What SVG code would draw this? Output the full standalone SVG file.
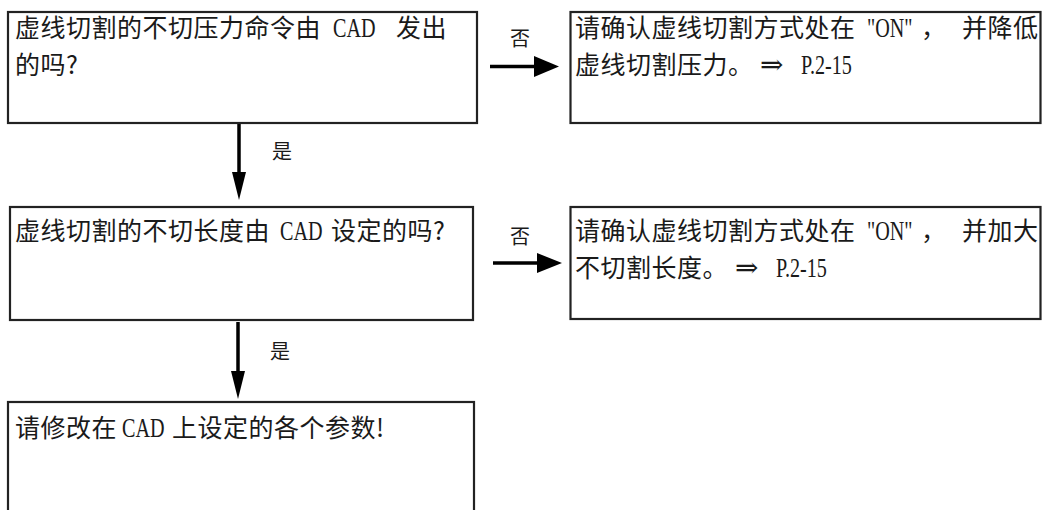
<svg xmlns="http://www.w3.org/2000/svg" width="1044" height="510" viewBox="0 0 1044 510">
<style>
.box{fill:#fff;stroke:#222;stroke-width:2.2}
.cj{font-family:"Noto Sans CJK SC","Noto Sans CJK JP",sans-serif;font-size:25px;letter-spacing:0.5px;fill:#1a1a1a}
.lt{font-family:"Liberation Serif","DejaVu Serif",serif;font-size:28px;fill:#1a1a1a}
.lbl{font-family:"Noto Sans CJK SC","Noto Sans CJK JP",sans-serif;font-size:20px;fill:#1a1a1a;text-anchor:middle}
.ln{stroke:#000;stroke-width:3.5;fill:none}
.hd{fill:#000}
</style>
<rect width="1044" height="510" fill="#fff"/>
<g id="connectors">
<line class="ln" x1="239" y1="124" x2="239" y2="174"/>
<polygon class="hd" points="232,172 246,172 239,200"/>
<line class="ln" x1="238" y1="322" x2="238" y2="373"/>
<polygon class="hd" points="231,371 245,371 238,399"/>
<line class="ln" x1="490" y1="66.5" x2="536" y2="66.5"/>
<polygon class="hd" points="534,56 534,77 559,66.5"/>
<line class="ln" x1="493" y1="263" x2="539" y2="263"/>
<polygon class="hd" points="537,253 537,273 562,263"/>
<text class="lbl" x="520" y="46">否</text>
<text class="lbl" x="520" y="244">否</text>
<text class="lbl" x="282" y="159">是</text>
<text class="lbl" x="280" y="359">是</text>
</g>
<g id="n1">
<rect class="box" x="8" y="12" width="469" height="111"/>
<text class="cj" x="15" y="37">虚线切割的不切压力命令由</text>
<text class="lt" transform="translate(333 37) scale(0.72 1)">CAD</text>
<text class="cj" x="396" y="37">发出</text>
<text class="cj" x="15" y="74">的吗?</text>
</g>
<g id="n2">
<rect class="box" x="570.5" y="12" width="470" height="111"/>
<text class="cj" x="575" y="37">请确认虚线切割方式处在</text>
<text class="lt" transform="translate(867 37) scale(0.72 1)">"ON"</text>
<text class="cj" x="921" y="37">，</text>
<text class="cj" x="962" y="37">并降低</text>
<text class="cj" x="575" y="74">虚线切割压力。</text>
<text class="lt" x="760" y="74">⇒</text>
<text class="lt" transform="translate(801 74) scale(0.72 1)">P.2-15</text>
</g>
<g id="n3">
<rect class="box" x="10" y="207" width="463" height="113"/>
<text class="cj" x="15" y="240">虚线切割的不切长度由</text>
<text class="lt" transform="translate(280 240) scale(0.72 1)">CAD</text>
<text class="cj" x="331" y="240">设定的吗?</text>
</g>
<g id="n4">
<rect class="box" x="570.5" y="207" width="470" height="112"/>
<text class="cj" x="575" y="240">请确认虚线切割方式处在</text>
<text class="lt" transform="translate(867 240) scale(0.72 1)">"ON"</text>
<text class="cj" x="921" y="240">，</text>
<text class="cj" x="962" y="240">并加大</text>
<text class="cj" x="575" y="277">不切割长度。</text>
<text class="lt" x="735" y="277">⇒</text>
<text class="lt" transform="translate(776 277) scale(0.72 1)">P.2-15</text>
</g>
<g id="n5">
<rect class="box" x="8" y="402" width="466" height="130"/>
<text class="cj" x="15" y="437">请修改在</text>
<text class="lt" transform="translate(122 437) scale(0.72 1)">CAD</text>
<text class="cj" x="172" y="437">上设定的各个参数!</text>
</g>
</svg>
